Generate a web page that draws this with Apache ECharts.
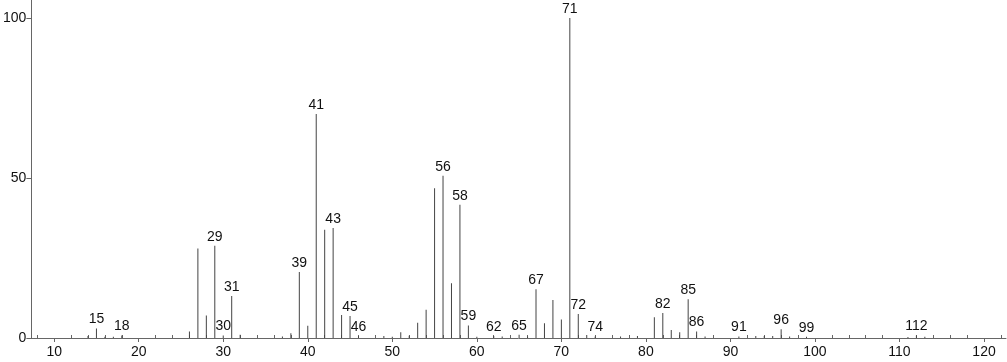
<!DOCTYPE html>
<html>
<head>
<meta charset="utf-8">
<script src="https://cdn.jsdelivr.net/npm/echarts@6/dist/echarts.min.js"></script>
<style>
    html, body { margin: 0; padding: 0; background: #fff; }
    #main { width: 1007px; height: 362px; }
</style>
</head>
<body>
<div id="main"></div>
<script>
// m/z 和相对强度
var masses = [14, 15, 16, 17, 18, 26, 27, 28, 29, 30, 31, 32, 37, 38, 39, 40, 41, 42, 43, 44, 45, 46,
    49, 50, 51, 52, 53, 54, 55, 56, 57, 58, 59, 60, 62, 63, 65, 66, 67, 68, 69, 70, 71, 72, 73, 74,
    77, 79, 81, 82, 83, 84, 85, 86, 87, 91, 93, 94, 95, 96, 97, 99, 111, 112, 113];
var intensities = [0.6, 3.0, 0.4, 0.4, 0.8, 2.0, 28.0, 7.0, 28.8, 0.8, 13.1, 1.0, 0.5, 1.5, 20.6, 3.8, 70.0, 33.8, 34.4, 7.2, 6.9, 0.6,
    0.6, 0.4, 1.8, 0.7, 4.8, 8.8, 46.8, 50.7, 17.1, 41.6, 3.9, 0.4, 0.6, 0.5, 1.0, 0.5, 15.2, 4.6, 11.9, 5.8, 100, 7.5, 0.9, 0.5,
    0.5, 0.6, 6.5, 7.8, 2.5, 1.8, 12.1, 2.0, 0.5, 0.5, 0.6, 0.6, 0.6, 2.7, 0.5, 0.4, 0.3, 0.8, 0.4];
// 标注的峰
var labeledMasses = [15, 18, 29, 30, 31, 39, 41, 43, 45, 46, 56, 58, 59, 62, 65, 67, 71, 72, 74, 82, 85, 86, 91, 96, 99, 112];
var xMajorTicks = [10, 20, 30, 40, 50, 60, 70, 80, 90, 100, 110, 120];
var yTicks = [0, 50, 100];

var xMinorTicks = [];
for (var t = 8; t <= 122; t += 2) {
    if (t % 10 !== 0) xMinorTicks.push(t);
}

var seriesData = [];
for (var i = 0; i < masses.length; i++) {
    var item = { value: [masses[i], intensities[i]] };
    if (labeledMasses.indexOf(masses[i]) >= 0) {
        item.label = { show: true };
    }
    seriesData.push(item);
}

var chart = echarts.init(document.getElementById('main'));
var font = 'Liberation Sans, Arial, sans-serif';
var option = {
    animation: false,
    backgroundColor: '#fff',
    grid: { left: 30, right: 1, top: 0, bottom: 24 },
    xAxis: [{
        type: 'value',
        min: 7.3,
        max: 122.6,
        axisLine: { lineStyle: { color: '#666', width: 1 } },
        axisTick: { show: true, length: 4, lineStyle: { color: '#666' }, customValues: xMajorTicks },
        axisLabel: { color: '#111', fontSize: 14, fontFamily: font, margin: 7, customValues: xMajorTicks },
        splitLine: { show: false }
    }, {
        type: 'value',
        position: 'bottom',
        min: 7.3,
        max: 122.6,
        axisLine: { show: false },
        axisTick: { show: true, inside: true, length: 3, lineStyle: { color: '#666' }, customValues: xMinorTicks },
        axisLabel: { show: false },
        splitLine: { show: false }
    }],
    yAxis: {
        type: 'value',
        min: 0,
        max: 105.6,
        axisLine: { show: true, lineStyle: { color: '#666', width: 1 } },
        axisTick: { show: true, length: 5, lineStyle: { color: '#666' }, customValues: yTicks },
        axisLabel: { color: '#111', fontSize: 14, fontFamily: font, margin: 5, customValues: yTicks },
        splitLine: { show: false }
    },
    series: [{
        type: 'bar',
        xAxisIndex: 0,
        barWidth: 1,
        itemStyle: { color: '#444' },
        label: {
            show: false,
            position: 'top',
            distance: 2,
            color: '#111',
            fontSize: 14,
            fontFamily: font,
            formatter: function (p) { return p.value[0]; }
        },
        data: seriesData
    }]
};
chart.setOption(option);
</script>
</body>
</html>
